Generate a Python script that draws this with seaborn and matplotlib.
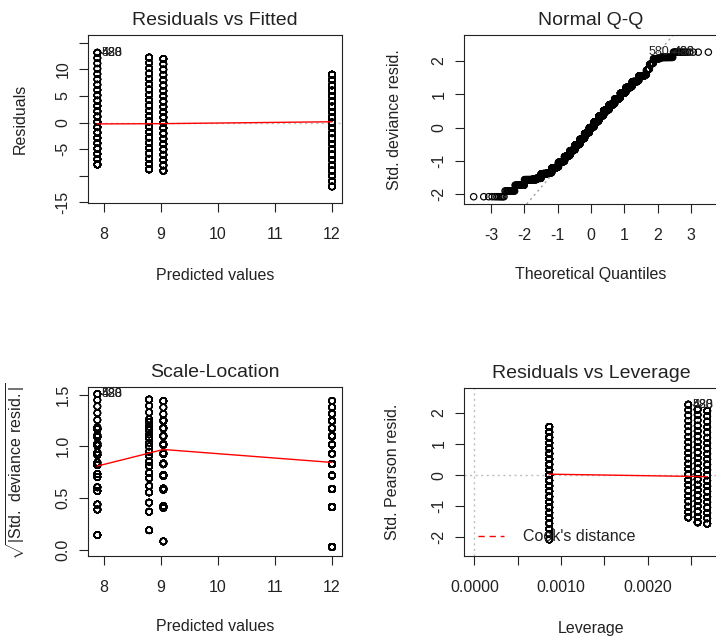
import numpy as np
import pandas as pd
import matplotlib
matplotlib.use("Agg")
import matplotlib.pyplot as plt
import seaborn as sns
from statistics import NormalDist
from matplotlib.lines import Line2D

# Response scores (0-21) and how often each score occurs in the four groups
scores = list(range(22))
group_names = ["A", "B", "C", "D"]
fitted_values = [7.88, 8.79, 9.04, 12.005]
counts_a = [40, 22, 24, 25, 25, 25, 26, 26, 25, 22, 22, 20, 17, 14, 12, 10, 8, 7, 6, 6, 7, 16]
counts_b = [36, 19, 19, 20, 21, 21, 22, 22, 23, 22, 20, 19, 17, 15, 14, 12, 10, 10, 8, 6, 7, 25]
counts_c = [36, 19, 18, 18, 18, 18, 19, 19, 19, 21, 20, 19, 17, 15, 14, 13, 11, 10, 9, 8, 8, 23]
counts_d = [11, 15, 27, 30, 44, 46, 51, 52, 57, 62, 57, 61, 64, 66, 70, 83, 79, 73, 61, 59, 48, 40]

# lowess smooths evaluated at each group (group order A-D)
smooth_resid = [-0.25, -0.22, -0.20, 0.15]
smooth_scale = [0.81, 0.935, 0.97, 0.845]
smooth_leverage = [-0.04, -0.045, -0.05, 0.03]

# ids of the three most extreme observations
top_ids = ["580", "423", "488"]

# ---- model quantities -------------------------------------------------------
rows = []
for g, f, cnt in zip(group_names, fitted_values, [counts_a, counts_b, counts_c, counts_d]):
    for s, c in zip(scores, cnt):
        rows += [(g, f, s)] * c
df = pd.DataFrame(rows, columns=["group", "fitted", "y"])
n, p = len(df), len(group_names)
df["resid"] = df["y"] - df["fitted"]
sigma = np.sqrt((df["resid"] ** 2).sum() / (n - p))
df["hat"] = 1.0 / df.groupby("group")["y"].transform("size")
df["std_resid"] = df["resid"] / (sigma * np.sqrt(1 - df["hat"]))
df["sqrt_abs"] = np.sqrt(np.abs(df["std_resid"]))
group_hat = df.groupby("group")["hat"].first().reindex(group_names).values

nd = NormalDist()
sorted_std = np.sort(df["std_resid"].values, kind="stable")
theo = np.array([nd.inv_cdf((i + 0.5) / n) for i in range(n)])
qq = pd.DataFrame({"theo": theo, "sample": sorted_std})
q1, q3 = np.quantile(sorted_std, [0.25, 0.75])
qslope = (q3 - q1) / (nd.inv_cdf(0.75) - nd.inv_cdf(0.25))
qint = q1 - qslope * nd.inv_cdf(0.25)

top = df.loc[df["resid"].idxmax()]

# ---- figure -----------------------------------------------------------------
sns.set_theme(style="ticks")
plt.rcParams["font.family"] = ["Liberation Sans", "DejaVu Sans"]
plt.rcParams["mathtext.fontset"] = "custom"
plt.rcParams["mathtext.rm"] = "Liberation Sans"
plt.rcParams["axes.edgecolor"] = "#222222"
plt.rcParams["axes.linewidth"] = 0.8

W, H = 716, 642
fig = plt.figure(figsize=(W / 100, H / 100), dpi=100)
fig.patch.set_facecolor("white")


def rect(left, top, right, bottom):
    return [left / W, 1 - bottom / H, (right - left) / W, (bottom - top) / H]


FS = 11.5
GRAY = "#bebebe"
DOT = (0, (1.5, 2.5))
PT = dict(marker="o", s=21, facecolor="none", edgecolor="black", linewidth=0.85,
          legend=False, zorder=3)


def style(ax, title, xlabel, ylabel, xlim, ylim, xt, xtl, yt, ytl, lab_x, lab_y):
    ax.set_xlim(*xlim)
    ax.set_ylim(*ylim)
    ax.set_xticks(xt, xtl)
    ax.set_yticks(yt, ytl)
    ax.tick_params(axis="both", direction="out", length=6.5, width=0.8,
                   labelsize=FS, colors="#222222")
    ax.tick_params(axis="x", pad=11)
    ax.tick_params(axis="y", pad=6, labelrotation=90)
    for lab in ax.get_yticklabels():
        lab.set_va("center")
    ax.set_xlabel(xlabel, fontsize=FS, color="#222222")
    ax.set_ylabel(ylabel, fontsize=FS, color="#222222")
    ax.xaxis.label.set_va("center")
    ax.yaxis.label.set_va("center")
    ax.xaxis.set_label_coords(0.5, lab_y)
    ax.yaxis.set_label_coords(lab_x, 0.5)
    ax.set_title(title, fontsize=14, y=1.084, pad=0, va="center", color="#222222")
    for sp in ax.spines.values():
        sp.set_visible(True)
        sp.set_linewidth(0.8)
    ax.set_facecolor("white")


def label_top(ax, x, y, ha):
    off = 3 if ha == "left" else -3
    for t in top_ids:
        ax.annotate(t, (x, y), xytext=(off, 0), textcoords="offset points",
                    ha=ha, va="center", fontsize=9, color="#222222", zorder=4)


# Residuals vs Fitted
ax1 = fig.add_axes(rect(88, 35, 342, 203))
ax1.axhline(0, color=GRAY, lw=1, ls=DOT, zorder=1)
sns.scatterplot(data=df, x="fitted", y="resid", ax=ax1, **PT)
sns.lineplot(x=fitted_values, y=smooth_resid, color="red", lw=1, ax=ax1, zorder=4)
label_top(ax1, top["fitted"], top["resid"], "left")
style(ax1, "Residuals vs Fitted", "Predicted values", "Residuals",
      (7.715, 12.18), (-15.1, 16.44),
      [8, 9, 10, 11, 12], ["8", "9", "10", "11", "12"],
      [-15, -10, -5, 0, 5, 10, 15], ["-15", "", "-5", "0", "5", "10", ""],
      -0.268, -0.429)

# Normal Q-Q
ax2 = fig.add_axes(rect(464, 35, 718, 204))
ax2.axline((0, qint), slope=qslope, color="#a0a0a0", lw=1, ls=DOT, zorder=1)
sns.scatterplot(data=qq, x="theo", y="sample", ax=ax2, **PT)
for t, pos in zip(top_ids, [n - 16, n - 2, n - 2]):
    ax2.annotate(t, (theo[pos], sorted_std[pos]), xytext=(-3, 0), textcoords="offset points",
                 ha="right", va="center", fontsize=9, color="#222222", zorder=4)
style(ax2, "Normal Q-Q", "Theoretical Quantiles", "Std. deviance resid.",
      (-3.81, 3.81), (-2.29, 2.78),
      [-3, -2, -1, 0, 1, 2, 3], ["-3", "-2", "-1", "0", "1", "2", "3"],
      [-2, -1, 0, 1, 2], ["-2", "-1", "0", "1", "2"],
      -0.272, -0.42)

# Scale-Location
ax3 = fig.add_axes(rect(88, 387, 342, 556))
sns.scatterplot(data=df, x="fitted", y="sqrt_abs", ax=ax3, **PT)
sns.lineplot(x=fitted_values, y=smooth_scale, color="red", lw=1, ax=ax3, zorder=4)
label_top(ax3, top["fitted"], np.sqrt(abs(df["std_resid"].max())), "left")
style(ax3, "Scale-Location", "Predicted values",
      r"$\sqrt{|\mathrm{Std.\ deviance\ resid.}|}$",
      (7.715, 12.18), (-0.058, 1.573),
      [8, 9, 10, 11, 12], ["8", "9", "10", "11", "12"],
      [0.0, 0.5, 1.0, 1.5], ["0.0", "0.5", "1.0", "1.5"],
      -0.28, -0.42)

# Residuals vs Leverage
ax4 = fig.add_axes(rect(464, 388, 718, 556))
ax4.axhline(0, color=GRAY, lw=1, ls=DOT, zorder=1)
ax4.axvline(0, color=GRAY, lw=1, ls=DOT, zorder=1)
sns.scatterplot(data=df, x="hat", y="std_resid", ax=ax4, **PT)
sns.lineplot(x=group_hat, y=smooth_leverage, color="red", lw=1, ax=ax4, zorder=4)
top_std = df["std_resid"].max()
label_top(ax4, top["hat"], top_std, "left")
style(ax4, "Residuals vs Leverage", "Leverage", "Std. Pearson resid.",
      (-0.000119, 0.002812), (-2.6, 2.8),
      [0, 0.0005, 0.0010, 0.0015, 0.0020, 0.0025],
      ["0.0000", "", "0.0010", "", "0.0020", ""],
      [-2, -1, 0, 1, 2], ["-2", "-1", "0", "1", "2"],
      -0.28, -0.43)
cook = Line2D([], [], color="red", lw=1, ls=(0, (4.5, 3.5)))
ax4.legend([cook], ["Cook's distance"], loc="center left", bbox_to_anchor=(0.055, 0.115),
           frameon=False, fontsize=FS, handlelength=1.6, handletextpad=1.25,
           borderpad=0, borderaxespad=0, labelcolor="#222222")

fig.savefig("out.png", dpi=100, facecolor="white")
